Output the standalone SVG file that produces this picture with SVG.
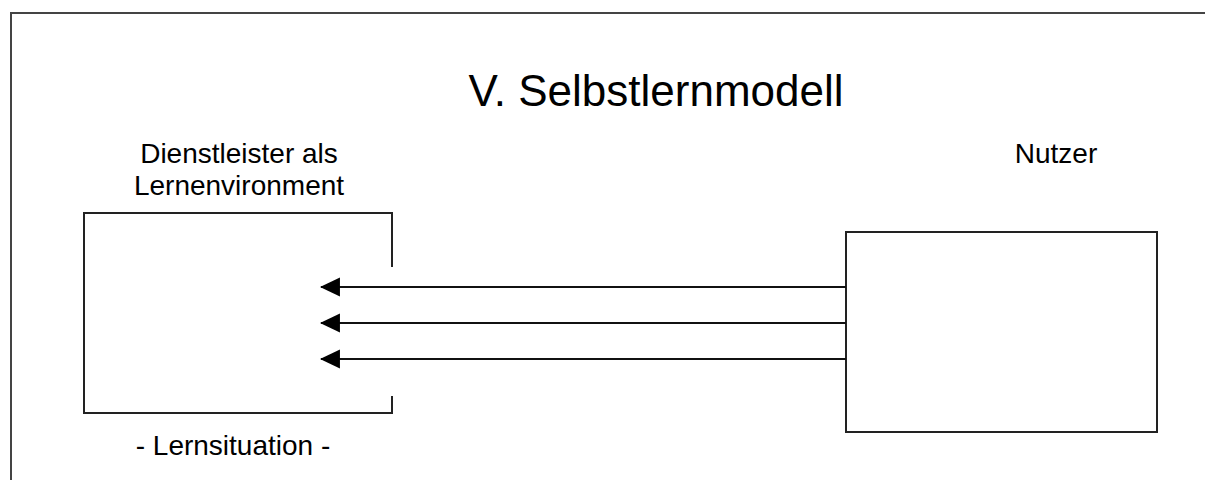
<svg xmlns="http://www.w3.org/2000/svg" width="1205" height="480" viewBox="0 0 1205 480">
<style>
.t{font-family:"Liberation Sans",Arial,sans-serif;fill:#000;text-anchor:middle}
.b{fill:none;stroke:#222;stroke-width:2}
.c{stroke:#111;stroke-width:2;fill:none}
</style>
<defs>
<marker id="ah" markerUnits="userSpaceOnUse" markerWidth="20" markerHeight="20" refX="18" refY="9" orient="auto" viewBox="0 0 19 18">
<path d="M19,9 L0,0 L0,18 Z" fill="#000"/>
</marker>
</defs>
<rect width="1205" height="480" fill="#fff"/>
<path d="M11,490 V13 H1215" fill="none" stroke="#444" stroke-width="2"/>
<text class="t" x="656" y="106" font-size="44">V. Selbstlernmodell</text>
<g id="dienstleister">
<path class="b" d="M392,267 V213 H84 V413 H392 V396"/>
<text class="t" x="239" y="163" font-size="28">Dienstleister als</text>
<text class="t" x="239" y="195" font-size="28">Lernenvironment</text>
<text class="t" x="233" y="455" font-size="28">- Lernsituation -</text>
</g>
<g id="nutzer">
<rect class="b" x="846" y="232" width="311" height="200"/>
<text class="t" x="1056" y="163" font-size="28">Nutzer</text>
</g>
<g id="connectors">
<line class="c" x1="846" y1="287" x2="321" y2="287" marker-end="url(#ah)"/>
<line class="c" x1="846" y1="323" x2="321" y2="323" marker-end="url(#ah)"/>
<line class="c" x1="846" y1="359" x2="321" y2="359" marker-end="url(#ah)"/>
</g>
</svg>
